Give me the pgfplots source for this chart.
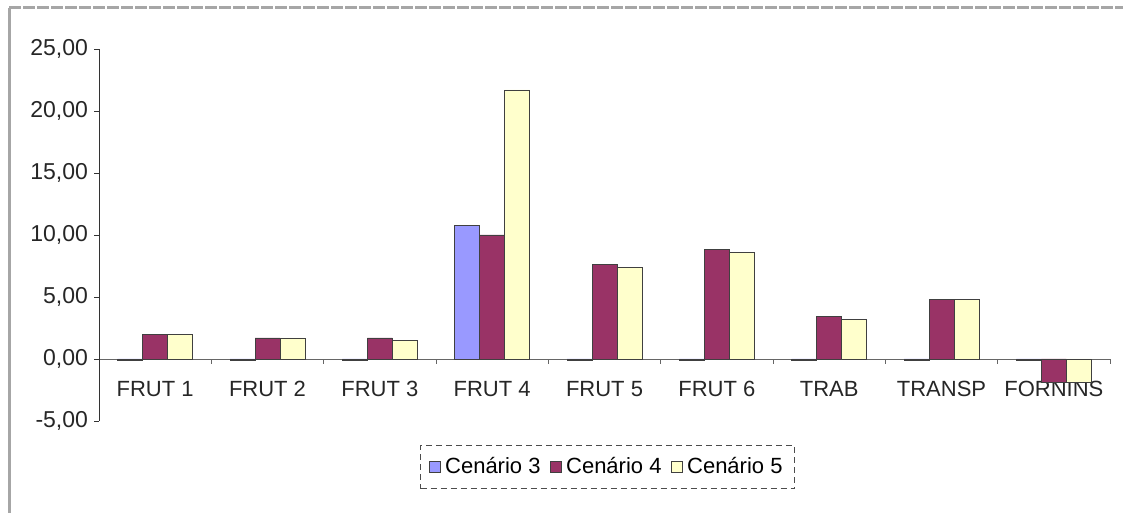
\documentclass[border=0pt]{standalone}
\usepackage{pgfplots}
\pgfplotsset{compat=1.18}
\usepackage{fontspec}
\setmainfont{Liberation Sans}
\definecolor{cthree}{HTML}{9999FF}
\definecolor{cfour}{HTML}{993366}
\definecolor{cfive}{HTML}{FFFFCC}
\begin{document}
\begin{tikzpicture}
\useasboundingbox (0pt,0pt) rectangle (561.5pt,256.5pt);
% chart area frame (left and top edges)
\draw[gray!70, line width=1.5pt] (4.5pt,0pt) -- (4.5pt,252.5pt);
\draw[gray!70, line width=1.5pt, dash pattern=on 6pt off 1pt] (4.5pt,252.5pt) -- (561.5pt,252.5pt);
\begin{axis}[
  at={(49.5pt,46pt)}, anchor=south west,
  scale only axis, width=505.5pt, height=186pt,
  ybar=0pt, bar width=12.5pt,
  xmin=-0.5, xmax=8.5, ymin=-5, ymax=25,
  axis y line=left, axis x line*=middle,
  axis line style={-, black!80},
  x axis line style={black!60},
  ytick={-5,0,5,10,15,20,25},
  xtick={0,...,8},
  xticklabels={FRUT 1,FRUT 2,FRUT 3,FRUT 4,FRUT 5,FRUT 6,TRAB,TRANSP,\raisebox{-3.5pt}{FORNINS}},
  major x tick style={draw=none},
  minor xtick={-0.5,0.5,...,8.5},
  minor x tick style={black!60},
  minor tick length=2.5pt, major tick length=2.5pt,
  tick align=outside,
  ytick style={black!80},
  xticklabel style={yshift=-5pt, text=black!85, font=\fontsize{11}{13}\selectfont},
  yticklabel style={xshift=0.5pt, text=black!85, font=\fontsize{11.5}{13}\selectfont},
  /pgf/number format/.cd, fixed, fixed zerofill, precision=2, use comma, assume math mode=true,
  /pgfplots/.cd,
  legend style={at={(0.503,-0.124)}, anchor=center, legend columns=-1,
    draw=black!70, densely dashed, font=\fontsize{11}{13}\selectfont,
    /tikz/every even column/.append style={column sep=2.5pt},
    inner xsep=4pt, inner ysep=4pt},
  legend image code/.code={\draw[#1, solid, draw=black!75, line width=0.5pt] (0pt,-2.9pt) rectangle (5.8pt,2.9pt);},
  legend cell align=left,
]
\addplot[fill=cthree, draw=black!75, line width=0.4pt] coordinates {
  (0,-0.15) (1,-0.15) (2,-0.15) (3,10.8) (4,-0.15) (5,-0.15) (6,-0.15) (7,-0.15) (8,-0.15)};
\addplot[fill=cfour, draw=black!75, line width=0.4pt] coordinates {
  (0,2.0) (1,1.7) (2,1.7) (3,10.0) (4,7.6) (5,8.8) (6,3.4) (7,4.8) (8,-1.9)};
\addplot[fill=cfive, draw=black!75, line width=0.4pt] coordinates {
  (0,2.0) (1,1.7) (2,1.5) (3,21.7) (4,7.4) (5,8.6) (6,3.2) (7,4.8) (8,-1.9)};
\legend{Cenário 3,Cenário 4,Cenário 5}
\end{axis}
\end{tikzpicture}
\end{document}
